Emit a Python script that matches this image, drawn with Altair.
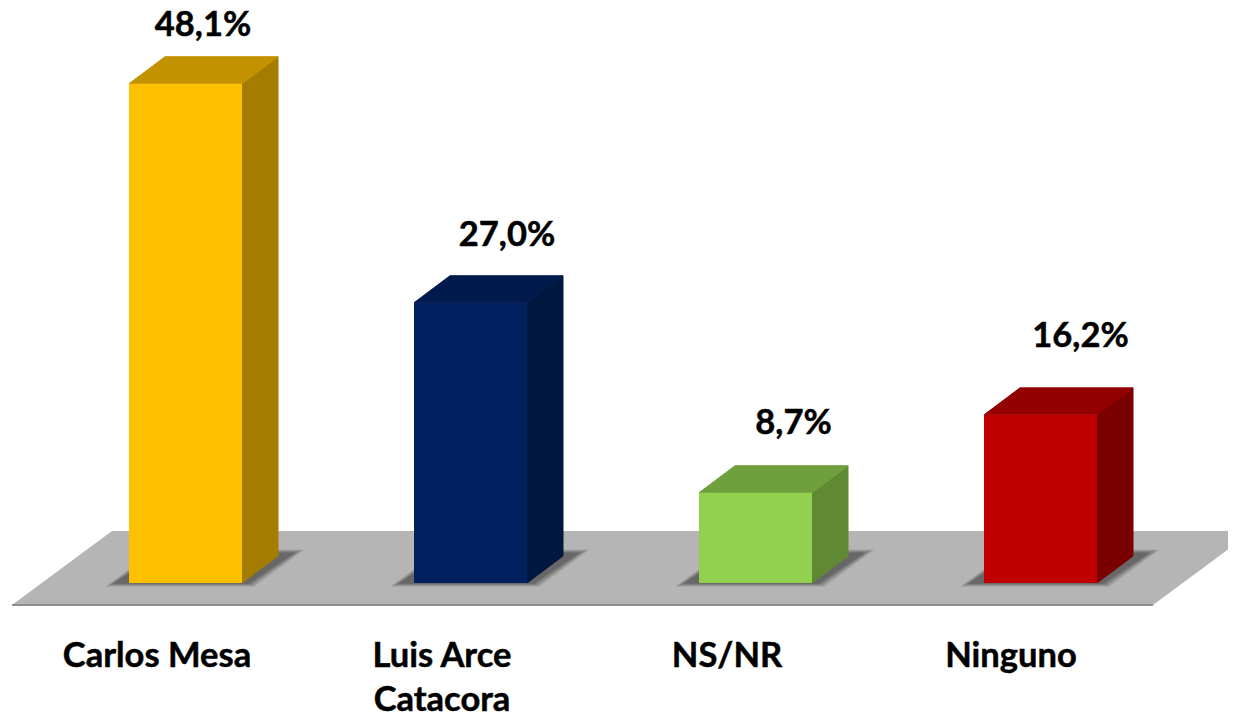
import altair as alt
import pandas as pd

categories = ["Carlos Mesa", "Luis Arce\nCatacora", "NS/NR", "Ninguno"]
values = [48.1, 27.0, 8.7, 16.2]
value_labels = ["48,1%", "27,0%", "8,7%", "16,2%"]
front_colors = ["#ffc000", "#002060", "#92d050", "#c00000"]
top_colors = ["#c29200", "#001a4d", "#70a03e", "#930000"]
side_colors = ["#a37c00", "#00173f", "#5f8a33", "#7a0000"]

# layout, in data units (one x unit = one category step, y unit = one percent)
W, H = 1220, 705
BASE_Y = 575
STEP = 285.0
PCT = 10.38
X0 = -177.5 / STEP
X1 = (W - 177.5) / STEP
Y0 = -(H - BASE_Y) / PCT
Y1 = BASE_Y / PCT
BAR = 113 / STEP
DX = 36 / STEP
DY = 27 / PCT
LABEL_DX = [17.5 / STEP, 36.5 / STEP, 38 / STEP, 40 / STEP]
LABEL_LIFT = [48 / PCT, 57 / PCT, 59 / PCT, 68 / PCT]
CAT_DX = [-28.5 / STEP, -28.5 / STEP, -28.5 / STEP, -29.5 / STEP]
CAT_Y = -84 / PCT
FLOOR = dict(fl=(12 - 185.5) / STEP, fr=(1153 - 185.5) / STEP, f=-22 / PCT,
             run=100 / STEP, b=74 / PCT)
SHADOWS = [(g, 0.10) for g in (9, 7.5, 6, 4.5, 3, 2, 1, 0)]

front, top, side, shadow = [], [], [], []
for i, (v, fc, tc, sc) in enumerate(zip(values, front_colors, top_colors, side_colors)):
    l, r = i - BAR / 2, i + BAR / 2
    front.append(dict(x=l, x2=r, y=0, y2=v, c=fc))
    for x, a, b in [(l, v, v), (l + DX, v, v + DY), (r, v, v + DY), (r + DX, v + DY, v + DY)]:
        top.append(dict(id=i, x=x, y=a, y2=b, c=tc))
    for x, a, b in [(r, 0, v), (r + DX, DY, v + DY)]:
        side.append(dict(id=i, x=x, y=a, y2=b, c=sc))
    for k, (g, op) in enumerate(SHADOWS):
        sl = l - (15 + g) / STEP
        sr = r + (6 + g * 0.7) / STEP
        run = (46 + g * 0.5) / STEP
        lo = (-0.5 - g * 0.35) / PCT
        hi = (30 + g * 0.4) / PCT
        for x, a, b in [(sl, lo, lo), (sl + run, lo, hi), (sr, lo, hi), (sr + run, hi, hi)]:
            shadow.append(dict(id=f"{i}-{k}", x=x, y=a, y2=b, op=op))

fl, fr, f, run, b = FLOOR["fl"], FLOOR["fr"], FLOOR["f"], FLOOR["run"], FLOOR["b"]
floor = [dict(x=fl, y=f, y2=f), dict(x=fl + run, y=f, y2=f + b),
         dict(x=fr, y=f, y2=f + b), dict(x=fr + run, y=f + b, y2=f + b)]

xs = alt.Scale(domain=[X0, X1], range=[0, W], nice=False, zero=False)
ys = alt.Scale(domain=[Y0, Y1], range=[H, 0], nice=False, zero=False)
X = alt.X("x:Q", scale=xs, axis=None)
Y = alt.Y("y:Q", scale=ys, axis=None, stack=None)


def faces(rows):
    return alt.Chart(pd.DataFrame(rows)).mark_area(
        interpolate="linear", strokeWidth=1, strokeJoin="round"
    ).encode(
        x=X, y=Y, y2="y2:Q", detail="id:N",
        color=alt.Color("c:N", scale=None), stroke=alt.Stroke("c:N", scale=None))


floor_layer = alt.Chart(pd.DataFrame(floor)).mark_area(color="#b5b5b5").encode(x=X, y=Y, y2="y2:Q")
floor_edge = alt.Chart(pd.DataFrame([dict(x=fl, x2=fr, y=f)])).mark_rule(color="#8f8f8f", strokeWidth=2).encode(
    x=X, x2="x2:Q", y=Y)
shadow_layer = alt.Chart(pd.DataFrame(shadow)).mark_area(color="#333333").encode(
    x=X, y=Y, y2="y2:Q", detail="id:N", opacity=alt.Opacity("op:Q", scale=None))
front_layer = alt.Chart(pd.DataFrame(front)).mark_rect(cornerRadius=1).encode(
    x=X, x2="x2:Q", y=Y, y2="y2:Q", color=alt.Color("c:N", scale=None))

val_df = pd.DataFrame(dict(
    x=[i + d for i, d in enumerate(LABEL_DX)],
    y=[v + lift for v, lift in zip(values, LABEL_LIFT)],
    t=value_labels))
cat_df = pd.DataFrame(dict(
    x=[i + d for i, d in enumerate(CAT_DX)], y=[CAT_Y] * 4, t=categories))
FONT = dict(font="Lato", fontWeight="bold", fontSize=34.5, color="#000000", baseline="alphabetic",
            stroke="#000000", strokeWidth=0.5)
val_text = alt.Chart(val_df).mark_text(align="center", **FONT).encode(x=X, y=Y, text="t:N")
cat_text = alt.Chart(cat_df).mark_text(align="center", lineBreak="\n", lineHeight=44, **FONT).encode(x=X, y=Y, text="t:N")

chart = alt.layer(
    floor_layer, floor_edge, shadow_layer, faces(side), faces(top), front_layer, val_text, cat_text
).properties(width=W, height=H, padding=0,
             autosize=alt.AutoSizeParams(type="none"), background="#ffffff"
).configure_view(stroke=None)

chart.save("out.html", embed_options={"renderer": "svg", "actions": False})
